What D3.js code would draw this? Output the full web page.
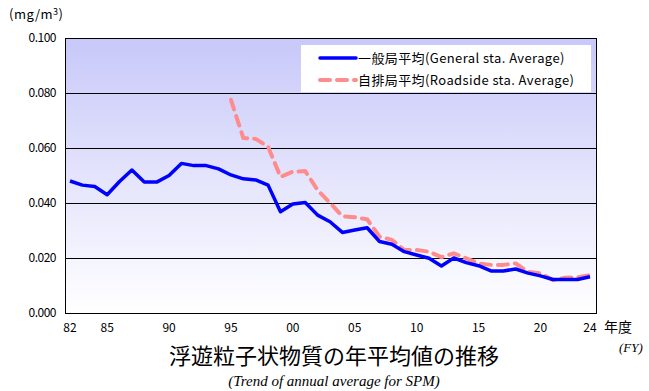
<!DOCTYPE html>
<html>
<head>
<meta charset="utf-8">
<script src="https://cdn.jsdelivr.net/npm/d3@7"></script>
<style>
  body { margin: 0; background: #fff; }
  svg { display: block; }
</style>
</head>
<body>
<div id="chart"></div>
<script>
// fiscal years 1982 - 2024
const years = d3.range(1982, 2025);
const generalAvg = [
  0.048, 0.0465, 0.046, 0.043, 0.0478, 0.052, 0.0476, 0.0476, 0.050, 0.0544,
  0.0536, 0.0536, 0.0524, 0.0502, 0.0488, 0.0484, 0.0465, 0.0368, 0.0396, 0.0402,
  0.0356, 0.0332, 0.0293, 0.0302, 0.031, 0.026, 0.025, 0.0223, 0.0211, 0.0199,
  0.0171, 0.020, 0.0183, 0.0172, 0.0153, 0.0153, 0.016, 0.0145, 0.0135, 0.0122,
  0.0122, 0.0122, 0.0132
];
// roadside stations start in 1995
const roadsideYears = d3.range(1995, 2025);
const roadsideAvg = [
  0.0775, 0.0636, 0.0633, 0.0605, 0.0495, 0.0514, 0.0516, 0.0447, 0.040, 0.0352,
  0.0348, 0.0341, 0.0278, 0.0266, 0.0229, 0.0229, 0.0223, 0.0203, 0.0217, 0.0199,
  0.018, 0.0175, 0.0175, 0.018, 0.015, 0.0144, 0.012, 0.0128, 0.013, 0.0138
];
const xTicks = [1982, 1985, 1990, 1995, 2000, 2005, 2010, 2015, 2020, 2024];
const yTicks = [0, 0.02, 0.04, 0.06, 0.08, 0.1];

const width = 649, height = 391;
const plot = {left: 65, right: 596, top: 38, bottom: 313};

const svg = d3.select("#chart").append("svg")
    .attr("width", width)
    .attr("height", height)
    .style("font-family", "'Noto Sans CJK JP', 'DejaVu Sans', sans-serif");

const defs = svg.append("defs");
const grad = defs.append("linearGradient")
    .attr("id", "bg")
    .attr("x1", 0).attr("y1", 0).attr("x2", 0).attr("y2", 1);
grad.append("stop").attr("offset", "0%").attr("stop-color", "#c8c8fa");
grad.append("stop").attr("offset", "100%").attr("stop-color", "#ffffff");

const x = d3.scaleLinear()
    .domain([1982, 2024])
    .range([70, 590]);
const y = d3.scaleLinear()
    .domain([0, 0.1])
    .range([plot.bottom, plot.top]);

// plot background
svg.append("rect")
    .attr("x", plot.left).attr("y", plot.top)
    .attr("width", plot.right - plot.left)
    .attr("height", plot.bottom - plot.top)
    .attr("fill", "url(#bg)");

// gridlines
svg.append("g")
    .selectAll("line")
    .data(yTicks)
    .enter().append("line")
    .attr("x1", plot.left).attr("x2", plot.right)
    .attr("y1", d => y(d)).attr("y2", d => y(d))
    .attr("stroke", "#000")
    .attr("stroke-width", 1)
    .attr("shape-rendering", "crispEdges");

// y tick labels
svg.append("g")
    .selectAll("text")
    .data(yTicks)
    .enter().append("text")
    .attr("x", 56)
    .attr("y", d => y(d))
    .attr("dy", "0.35em")
    .attr("text-anchor", "end")
    .style("font-size", "12px")
    .style("letter-spacing", "-0.5px")
    .text(d => d3.format(".3f")(d));

// unit
svg.append("text")
    .attr("x", 9).attr("y", 19)
    .style("font-size", "13px")
    .style("letter-spacing", "0.5px")
    .html("(mg/m<tspan dy='-4' font-size='9'>3</tspan><tspan dy='4'>)</tspan>");

// x tick labels
svg.append("g")
    .selectAll("text")
    .data(xTicks)
    .enter().append("text")
    .attr("x", d => x(d))
    .attr("y", 332)
    .attr("text-anchor", "middle")
    .style("font-size", "12px")
    .text(d => String(d % 100).padStart(2, "0"));

svg.append("text")
    .attr("x", 604).attr("y", 332)
    .style("font-size", "14px")
    .text("年度");
svg.append("text")
    .attr("x", 619).attr("y", 352)
    .style("font-family", "'Liberation Serif', serif")
    .style("font-style", "italic")
    .style("font-size", "13px")
    .text("(FY)");

// lines
const line = d3.line()
    .x(d => x(d[0]))
    .y(d => y(d[1]));

svg.append("path")
    .datum(roadsideYears.map((yr, i) => [yr, roadsideAvg[i]]))
    .attr("d", line)
    .attr("fill", "none")
    .attr("stroke", "#ff8c8c")
    .attr("stroke-width", 4)
    .attr("stroke-dasharray", "10,7")
    .attr("stroke-linecap", "round")
    .attr("stroke-linejoin", "round");

svg.append("path")
    .datum(years.map((yr, i) => [yr, generalAvg[i]]))
    .attr("d", line)
    .attr("fill", "none")
    .attr("stroke", "#0000ff")
    .attr("stroke-width", 3.5)
    .attr("stroke-linejoin", "round");

// frame
svg.append("rect")
    .attr("x", plot.left).attr("y", plot.top)
    .attr("width", plot.right - plot.left)
    .attr("height", plot.bottom - plot.top)
    .attr("fill", "none")
    .attr("stroke", "#000")
    .attr("shape-rendering", "crispEdges");

// legend
const legend = svg.append("g");
legend.append("rect")
    .attr("x", 301).attr("y", 45)
    .attr("width", 290).attr("height", 47)
    .attr("fill", "#fff");
const legendItems = [
  {label: "一般局平均(General sta. Average)", color: "#0000ff", dash: null, w: 3.5},
  {label: "自排局平均(Roadside sta. Average)", color: "#ff8c8c", dash: "10,7", w: 4}
];
legendItems.forEach((d, i) => {
  const ly = 58 + i * 22;
  legend.append("line")
      .attr("x1", 320).attr("x2", 356)
      .attr("y1", ly).attr("y2", ly)
      .attr("stroke", d.color)
      .attr("stroke-width", d.w)
      .attr("stroke-linecap", "round")
      .attr("stroke-dasharray", d.dash);
  legend.append("text")
      .attr("x", 358).attr("y", ly)
      .attr("dy", "0.35em")
      .style("font-size", "13px")
      .style("letter-spacing", "0.4px")
      .text(d.label);
});

// titles
svg.append("text")
    .attr("x", 334).attr("y", 364)
    .attr("text-anchor", "middle")
    .style("font-size", "22px")
    .text("浮遊粒子状物質の年平均値の推移");
svg.append("text")
    .attr("x", 334).attr("y", 386)
    .attr("text-anchor", "middle")
    .style("font-family", "'Liberation Serif', serif")
    .style("font-style", "italic")
    .style("font-size", "15px")
    .text("(Trend of annual average for SPM)");
</script>
</body>
</html>
